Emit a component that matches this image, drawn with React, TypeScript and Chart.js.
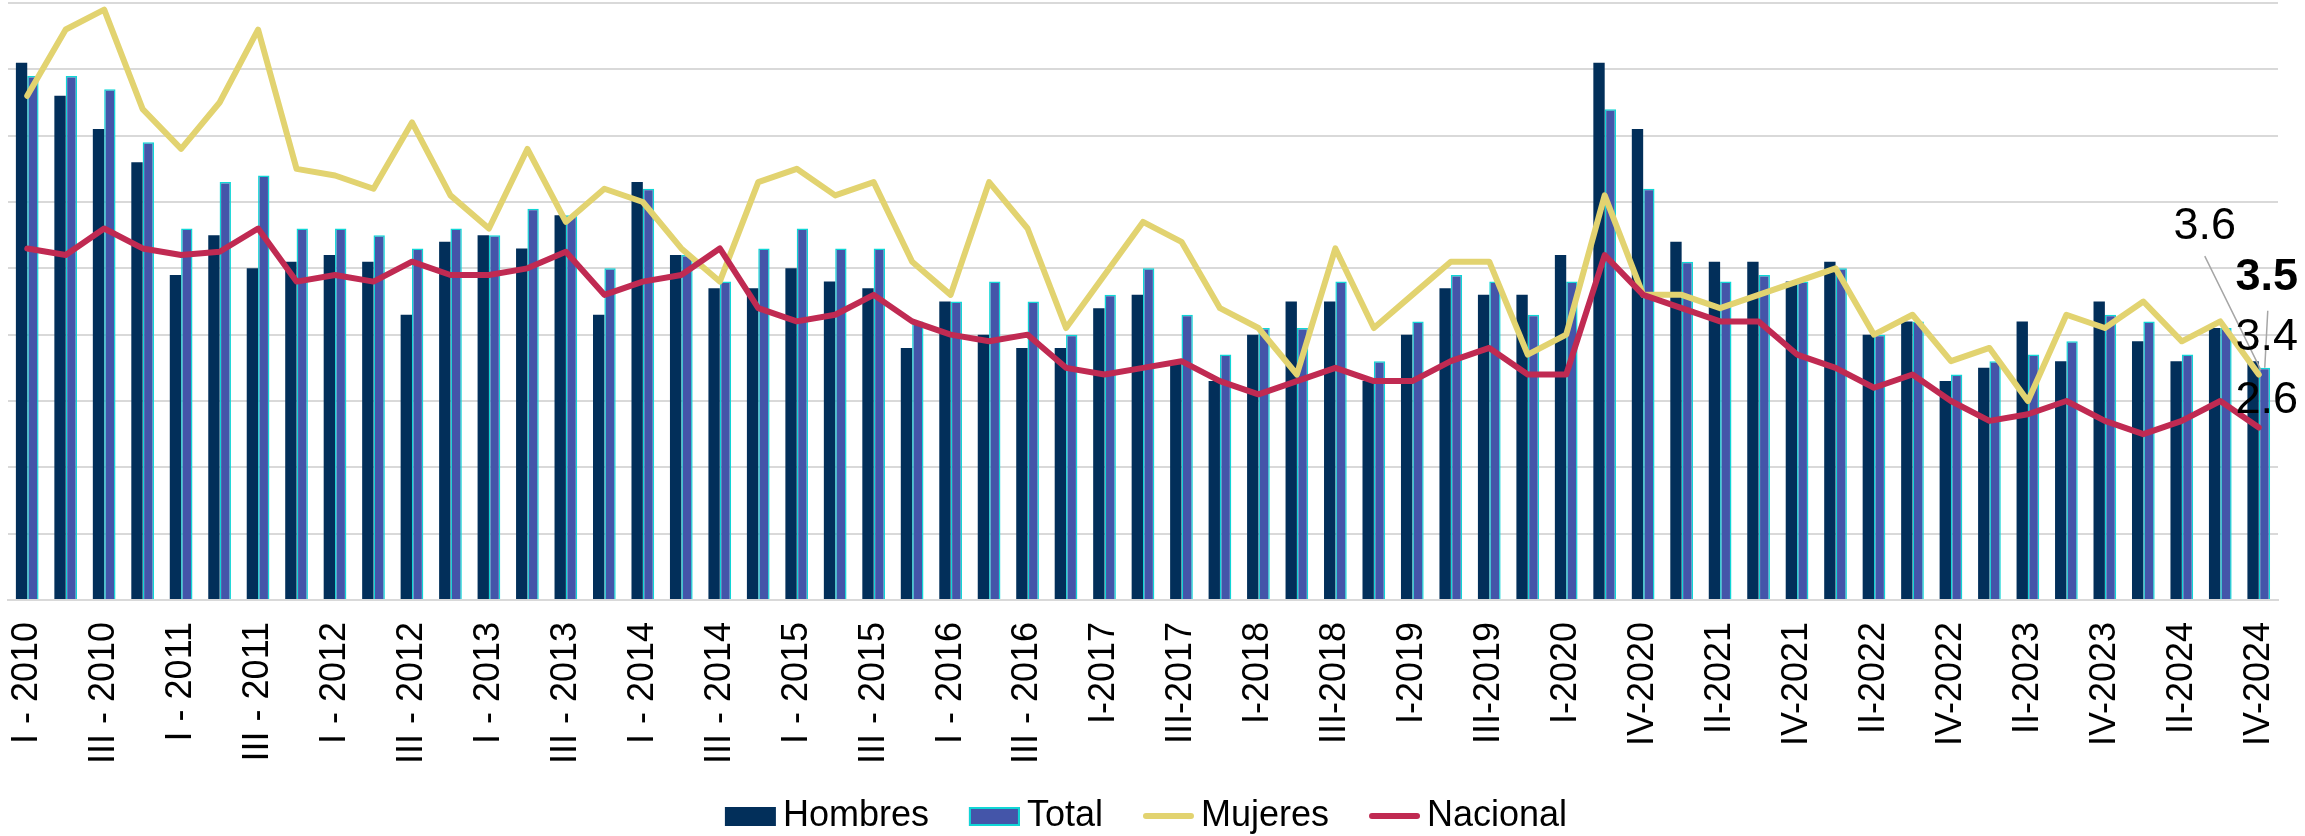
import React, { useEffect, useRef } from "react";
import { Chart, registerables } from "chart.js";

Chart.register(...registerables);

const FONT = "'Liberation Sans', Arial, sans-serif";

const quarters = [
  "I - 2010", "II - 2010", "III - 2010", "IV - 2010",
  "I - 2011", "II - 2011", "III - 2011", "IV - 2011",
  "I - 2012", "II - 2012", "III - 2012", "IV - 2012",
  "I - 2013", "II - 2013", "III - 2013", "IV - 2013",
  "I - 2014", "II - 2014", "III - 2014", "IV - 2014",
  "I - 2015", "II - 2015", "III - 2015", "IV - 2015",
  "I - 2016", "II - 2016", "III - 2016", "IV - 2016",
  "I-2017", "II-2017", "III-2017", "IV-2017",
  "I-2018", "II-2018", "III-2018", "IV-2018",
  "I-2019", "II-2019", "III-2019", "IV-2019",
  "I-2020", "III-2020", "IV-2020",
  "I-2021", "II-2021", "III-2021", "IV-2021",
  "I-2022", "II-2022", "III-2022", "IV-2022",
  "I-2023", "II-2023", "III-2023", "IV-2023",
  "I-2024", "II-2024", "III-2024", "IV-2024",
];

const hombres = [
  8.1, 7.6, 7.1, 6.6, 4.9, 5.5, 5.0, 5.1, 5.2, 5.1,
  4.3, 5.4, 5.5, 5.3, 5.8, 4.3, 6.3, 5.2, 4.7, 4.7,
  5.0, 4.8, 4.7, 3.8, 4.5, 4.0, 3.8, 3.8, 4.4, 4.6,
  3.6, 3.3, 4.0, 4.5, 4.5, 3.3, 4.0, 4.7, 4.6, 4.6,
  5.2, 8.1, 7.1, 5.4, 5.1, 5.1, 4.8, 5.1, 4.0, 4.2,
  3.3, 3.5, 4.2, 3.6, 4.5, 3.9, 3.6, 4.1, 3.6,
];

const total = [
  7.9, 7.9, 7.7, 6.9, 5.6, 6.3, 6.4, 5.6, 5.6, 5.5,
  5.3, 5.6, 5.5, 5.9, 5.8, 5.0, 6.2, 5.2, 4.8, 5.3,
  5.6, 5.3, 5.3, 4.2, 4.5, 4.8, 4.5, 4.0, 4.6, 5.0,
  4.3, 3.7, 4.1, 4.1, 4.8, 3.6, 4.2, 4.9, 4.8, 4.3,
  4.8, 7.4, 6.2, 5.1, 4.8, 4.9, 4.8, 5.0, 4.0, 4.2,
  3.4, 3.6, 3.7, 3.9, 4.3, 4.2, 3.7, 4.1, 3.5,
];

const mujeres = [
  7.6, 8.6, 8.9, 7.4, 6.8, 7.5, 8.6, 6.5, 6.4, 6.2,
  7.2, 6.1, 5.6, 6.8, 5.7, 6.2, 6.0, 5.3, 4.8, 6.3,
  6.5, 6.1, 6.3, 5.1, 4.6, 6.3, 5.6, 4.1, 4.9, 5.7,
  5.4, 4.4, 4.1, 3.4, 5.3, 4.1, 4.6, 5.1, 5.1, 3.7,
  4.0, 6.1, 4.6, 4.6, 4.4, 4.6, 4.8, 5.0, 4.0, 4.3,
  3.6, 3.8, 3.0, 4.3, 4.1, 4.5, 3.9, 4.2, 3.4,
];

const nacional = [
  5.3, 5.2, 5.6, 5.3, 5.2, 5.25, 5.6, 4.8, 4.9, 4.8,
  5.1, 4.9, 4.9, 5.0, 5.25, 4.6, 4.8, 4.9, 5.3, 4.4,
  4.2, 4.3, 4.6, 4.2, 4.0, 3.9, 4.0, 3.5, 3.4, 3.5,
  3.6, 3.3, 3.1, 3.3, 3.5, 3.3, 3.3, 3.6, 3.8, 3.4,
  3.4, 5.2, 4.6, 4.4, 4.2, 4.2, 3.7, 3.5, 3.2, 3.4,
  3.0, 2.7, 2.8, 3.0, 2.7, 2.5, 2.7, 3.0, 2.6,
];

const seriesNames = ["Hombres", "Total", "Mujeres", "Nacional"];

const COLORS = {
  hombres: "#022f5a",
  total: "#4455a9",
  totalBorder: "#10d6d6",
  mujeres: "#e2d370",
  nacional: "#c02a52",
  grid: "#d9d9d9",
};

const overlayPlugin = {
  id: "overlay",
  afterDraw(chart: any) {
    const ctx = chart.ctx as CanvasRenderingContext2D;
    const xs = chart.scales.x;
    const ys = chart.scales.y;
    const area = chart.chartArea;
    const last = quarters.length - 1;
    const lx = xs.getPixelForValue(last);

    // End-of-series value labels
    ctx.save();
    ctx.fillStyle = "#000";
    ctx.textAlign = "center";
    ctx.textBaseline = "middle";
    const hV = hombres[last];
    const tV = total[last];
    const mV = mujeres[last];
    const nV = nacional[last];

    const hLabel = { x: lx - 54, y: ys.getPixelForValue(hV) - 135 };
    const tLabel = { x: lx + 8, y: ys.getPixelForValue(tV) - 90 };
    const mLabel = { x: lx + 8, y: ys.getPixelForValue(mV) - 37 };
    const nLabel = { x: lx + 8, y: ys.getPixelForValue(nV) - 27 };

    // leader lines
    ctx.strokeStyle = "#a6a6a6";
    ctx.lineWidth = 1.5;
    ctx.beginPath();
    ctx.moveTo(hLabel.x, hLabel.y + 30);
    ctx.lineTo(lx + 2, ys.getPixelForValue(tV) + 2);
    ctx.moveTo(tLabel.x + 1, tLabel.y + 33);
    ctx.lineTo(lx + 6, ys.getPixelForValue(tV));
    ctx.stroke();

    ctx.font = `45px ${FONT}`;
    ctx.fillText(hV.toFixed(1), hLabel.x, hLabel.y);
    ctx.fillText(mV.toFixed(1), mLabel.x, mLabel.y);
    ctx.fillText(nV.toFixed(1), nLabel.x, nLabel.y);
    ctx.font = `bold 45px ${FONT}`;
    ctx.fillText(tV.toFixed(1), tLabel.x, tLabel.y);
    ctx.restore();

    // Legend
    ctx.save();
    ctx.font = `36px ${FONT}`;
    ctx.textBaseline = "middle";
    ctx.textAlign = "left";
    const sym = 51;
    const gap = 7;
    const itemGap = 40;
    const widths = seriesNames.map((n) => sym + gap + ctx.measureText(n).width);
    const totalW = widths.reduce((a, b) => a + b, 0) + itemGap * (seriesNames.length - 1);
    let x = (area.left + area.right) / 2 + 3 - totalW / 2;
    const cy = chart.height - 20;
    seriesNames.forEach((name, i) => {
      if (i === 0) {
        ctx.fillStyle = COLORS.hombres;
        ctx.fillRect(x, cy - 9, sym, 19);
      } else if (i === 1) {
        ctx.fillStyle = COLORS.total;
        ctx.fillRect(x, cy - 9, sym, 19);
        ctx.strokeStyle = COLORS.totalBorder;
        ctx.lineWidth = 2;
        ctx.strokeRect(x + 1, cy - 8, sym - 2, 17);
      } else {
        ctx.strokeStyle = i === 2 ? COLORS.mujeres : COLORS.nacional;
        ctx.lineWidth = 6;
        ctx.lineCap = "round";
        ctx.beginPath();
        ctx.moveTo(x + 3, cy);
        ctx.lineTo(x + sym - 3, cy);
        ctx.stroke();
      }
      ctx.fillStyle = "#000";
      ctx.fillText(name, x + sym + gap, cy);
      x += widths[i] + itemGap;
    });
    ctx.restore();
  },
};

export default function App() {
  const ref = useRef<HTMLCanvasElement>(null);

  useEffect(() => {
    document.body.style.margin = "0";
    const canvas = ref.current;
    if (!canvas) return;
    const chart = new Chart(canvas, {
      type: "bar",
      data: {
        labels: quarters,
        datasets: [
          {
            type: "bar",
            label: seriesNames[0],
            data: hombres,
            backgroundColor: COLORS.hombres,
            borderWidth: 0,
            categoryPercentage: 0.59,
            barPercentage: 1,
            order: 2,
          },
          {
            type: "bar",
            label: seriesNames[1],
            data: total,
            backgroundColor: COLORS.total,
            borderColor: COLORS.totalBorder,
            borderWidth: 1.5,
            categoryPercentage: 0.59,
            barPercentage: 1,
            order: 2,
          },
          {
            type: "line",
            label: seriesNames[2],
            data: mujeres,
            borderColor: COLORS.mujeres,
            backgroundColor: COLORS.mujeres,
            borderWidth: 6,
            pointRadius: 0,
            tension: 0,
            borderJoinStyle: "round",
            borderCapStyle: "round",
            order: 1,
          },
          {
            type: "line",
            label: seriesNames[3],
            data: nacional,
            borderColor: COLORS.nacional,
            backgroundColor: COLORS.nacional,
            borderWidth: 6,
            pointRadius: 0,
            tension: 0,
            borderJoinStyle: "round",
            borderCapStyle: "round",
            order: 0,
          },
        ] as any,
      },
      options: {
        animation: false,
        responsive: false,
        devicePixelRatio: 1,
        layout: { padding: { left: 8, right: 27, top: 3, bottom: 0 } },
        plugins: {
          legend: { display: false },
          tooltip: { enabled: false },
        },
        scales: {
          x: {
            grid: { display: false, drawTicks: false },
            border: { display: true, color: COLORS.grid, width: 2 },
            ticks: {
              autoSkip: false,
              maxRotation: 90,
              minRotation: 90,
              padding: 22,
              color: "#000",
              font: { family: FONT, size: 36 },
              callback: (_v: any, i: number) => (i % 2 === 0 ? quarters[i] : ""),
            },
            afterFit: (s: any) => {
              s.height = 236;
              s.paddingLeft = 0;
              s.paddingRight = 0;
            },
          },
          y: {
            min: 0,
            max: 9,
            ticks: { display: false, stepSize: 1 },
            grid: { color: COLORS.grid, lineWidth: 2, drawTicks: false },
            border: { display: false },
            afterFit: (s: any) => {
              s.width = 0;
              s.paddingTop = 0;
              s.paddingBottom = 0;
            },
          },
        },
      } as any,
      plugins: [overlayPlugin],
    });
    return () => chart.destroy();
  }, []);

  return (
    <div style={{ width: 2305, height: 836, overflow: "hidden" }}>
      <canvas ref={ref} width={2305} height={836} style={{ display: "block", width: 2305, height: 836 }} />
    </div>
  );
}
